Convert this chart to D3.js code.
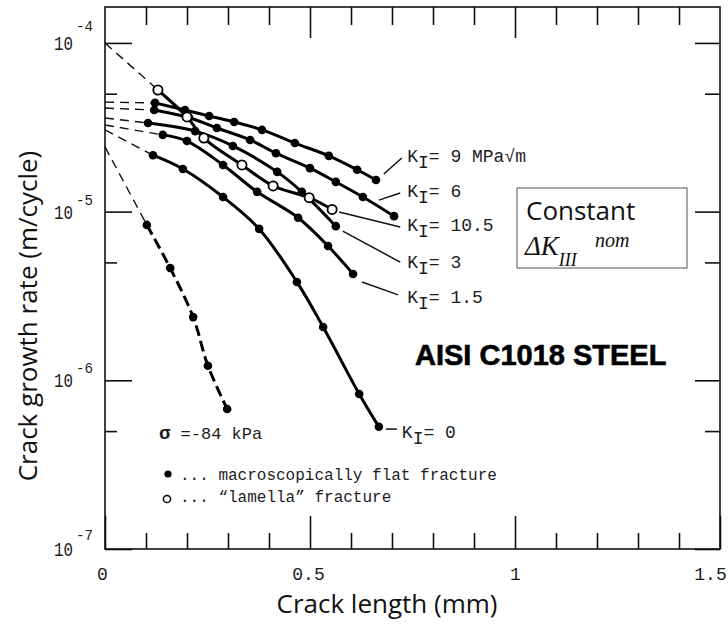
<!DOCTYPE html>
<html>
<head>
<meta charset="utf-8">
<script src="https://cdn.jsdelivr.net/npm/d3@7/dist/d3.min.js"></script>
<style>
  body { margin: 0; background: #fff; }
  .mono { font-family: "Liberation Mono", "DejaVu Sans Mono", monospace; fill: #1c1c1c; }
  .sans { font-family: "Open Sans", "Noto Sans", sans-serif; fill: #111; }
</style>
</head>
<body>
<svg width="728" height="624"></svg>
<script>
// values: crack length (mm) vs growth rate (m/cycle)
const k9Len   = [0.122, 0.195, 0.254, 0.315, 0.383, 0.463, 0.546, 0.615, 0.661];
const k9Rate  = [4.41e-5, 4.0e-5, 3.69e-5, 3.40e-5, 3.05e-5, 2.55e-5, 2.14e-5, 1.77e-5, 1.54e-5];
const k6Len   = [0.120, 0.205, 0.273, 0.354, 0.417, 0.500, 0.563, 0.629, 0.705];
const k6Rate  = [4.0e-5, 3.6e-5, 3.13e-5, 2.66e-5, 2.22e-5, 1.81e-5, 1.50e-5, 1.22e-5, 9.4e-6];
const k105Len  = [0.129, 0.200, 0.241, 0.334, 0.410, 0.498, 0.554];   // lamella (open circles)
const k105Rate = [5.26e-5, 3.64e-5, 2.73e-5, 1.89e-5, 1.42e-5, 1.21e-5, 1.03e-5];
const k3Len   = [0.105, 0.220, 0.312, 0.420, 0.480, 0.563];
const k3Rate  = [3.35e-5, 3.0e-5, 2.45e-5, 1.72e-5, 1.31e-5, 8.2e-6];
const k15Len  = [0.141, 0.200, 0.288, 0.371, 0.471, 0.544, 0.605];
const k15Rate = [2.85e-5, 2.62e-5, 1.89e-5, 1.31e-5, 9.2e-6, 6.25e-6, 4.27e-6];
const k0Len   = [0.117, 0.190, 0.288, 0.376, 0.468, 0.532, 0.620, 0.668];
const k0Rate  = [2.16e-5, 1.79e-5, 1.22e-5, 7.9e-6, 3.83e-6, 2.07e-6, 8.3e-7, 5.3e-7];
const sigLen  = [0.102, 0.159, 0.215, 0.251, 0.298];   // sigma = -84 kPa
const sigRate = [8.34e-6, 4.63e-6, 2.37e-6, 1.22e-6, 6.76e-7];

// dashed extrapolation back to zero crack length
const startRate = [4.46e-5, 4.11e-5, 1.0e-4, 3.59e-5, 3.26e-5, 3.05e-5, 2.42e-5];

const curveLabels = ["= 9 MPa√m", "= 6", "= 10.5", "= 3", "= 1.5", "= 0"];

const xMajor = [0, 0.5, 1, 1.5];
const xMinor = [0.1, 0.2, 0.3, 0.4, 0.6, 0.7, 0.8, 0.9, 1.1, 1.2, 1.3, 1.4];
const xTickLabels = ["0", "0.5", "1", "1.5"];
const yMajor = [1e-4, 1e-5, 1e-6, 1e-7];
const yMinor = [5e-5, 5e-6, 5e-7];
const yTickExp = ["-4", "-5", "-6", "-7"];

const svg = d3.select("svg");
const x = d3.scaleLinear().domain([0, 1.5]).range([105, 720]);
const y = d3.scaleLog().domain([1e-7, 1.633e-4]).range([549, 7]);

const zip = (a, b) => a.map((v, i) => [v, b[i]]);
const series = [
  {pts: zip(k9Len, k9Rate), open: false},
  {pts: zip(k6Len, k6Rate), open: false},
  {pts: zip(k105Len, k105Rate), open: true},
  {pts: zip(k3Len, k3Rate), open: false},
  {pts: zip(k15Len, k15Rate), open: false},
  {pts: zip(k0Len, k0Rate), open: false},
  {pts: zip(sigLen, sigRate), open: false, dashed: true}
];

// frame
svg.append("rect")
  .attr("x", x(0)).attr("y", y(y.domain()[1]))
  .attr("width", x(1.5) - x(0)).attr("height", y(1e-7) - y(y.domain()[1]))
  .attr("fill", "none").attr("stroke", "#111").attr("stroke-width", 1.6);

function axis(gen, tx, ty) {
  const g = svg.append("g").attr("transform", `translate(${tx},${ty})`).call(gen);
  g.select(".domain").remove();
  g.selectAll("line").attr("stroke", "#111").attr("stroke-width", 1.6);
  return g;
}

axis(d3.axisBottom(x).tickValues(xMinor).tickSizeInner(-16).tickSizeOuter(0).tickFormat(""), 0, 549);
const bx = axis(d3.axisBottom(x).tickValues(xMajor).tickSizeInner(-33).tickSizeOuter(0).tickPadding(18)
  .tickFormat((d, i) => xTickLabels[i]), 0, 549);
bx.selectAll("text").attr("class", "mono").attr("font-size", 18).attr("fill", "#1c1c1c")
  .attr("dx", (d, i) => [-3, -2, 0, -10][i]);

axis(d3.axisTop(x).tickValues(xMinor).tickSizeInner(-18).tickSizeOuter(0).tickFormat(""), 0, 7);
axis(d3.axisTop(x).tickValues([0.5, 1]).tickSizeInner(-31).tickSizeOuter(0).tickFormat(""), 0, 7);

axis(d3.axisLeft(y).tickValues(yMinor).tickSizeInner(-12).tickSizeOuter(0).tickFormat(""), 105, 0);
axis(d3.axisLeft(y).tickValues(yMajor).tickSizeInner(-27).tickSizeOuter(0).tickFormat(""), 105, 0);
axis(d3.axisRight(y).tickValues(yMinor).tickSizeInner(-15).tickSizeOuter(0).tickFormat(""), 720, 0);
axis(d3.axisRight(y).tickValues(yMajor).tickSizeInner(-25).tickSizeOuter(0).tickFormat(""), 720, 0);

// y tick labels 10^n (superscripts sit a little unevenly in the scan)
const supRise = [-19, -14, -14, -16];
const yl = svg.append("g").selectAll("text").data(yMajor).enter().append("text")
  .attr("class", "mono").attr("x", 54).attr("y", d => y(d) + 7).attr("font-size", 21);
yl.append("tspan").attr("textLength", 19).attr("lengthAdjust", "spacingAndGlyphs").text("10");
yl.append("tspan").attr("x", 76).attr("dy", (d, i) => supRise[i]).attr("font-size", 15)
  .attr("textLength", 17).attr("lengthAdjust", "spacingAndGlyphs").text((d, i) => yTickExp[i]);

// curves
const line = d3.line().x(d => x(d[0])).y(d => y(d[1])).curve(d3.curveCatmullRom.alpha(0.5));
const curves = svg.append("g");

series.forEach((s, i) => {
  curves.append("path")
    .attr("d", d3.line().x(d => x(d[0])).y(d => y(d[1]))([[0, startRate[i]], s.pts[0]]))
    .attr("fill", "none").attr("stroke", "#111").attr("stroke-width", 1.4)
    .attr("stroke-dasharray", "9,6");
  curves.append("path").attr("d", line(s.pts))
    .attr("fill", "none").attr("stroke", "#000").attr("stroke-width", 3)
    .attr("stroke-dasharray", s.dashed ? "11,5" : null);
});

series.forEach(s => {
  curves.selectAll(null).data(s.pts).enter().append("circle")
    .attr("cx", d => x(d[0])).attr("cy", d => y(d[1]))
    .attr("r", s.open ? 4.6 : 4.3)
    .attr("fill", s.open ? "#fff" : "#000")
    .attr("stroke", "#000").attr("stroke-width", s.open ? 1.8 : 0);
});

// leader lines and K_I labels
const leaders = [
  [[0.680, 1.67e-5], [0.724, 2.08e-5]],
  [[0.668, 1.17e-5], [0.720, 1.29e-5]],
  [[0.571, 9.96e-6], [0.720, 8.11e-6]],
  [[0.580, 7.67e-6], [0.720, 5.02e-6]],
  [[0.627, 3.83e-6], [0.715, 3.21e-6]],
  [[0.685, 5.14e-7], [0.712, 5.14e-7]]
];
const labelAt = [[0.737, 1.97e-5], [0.737, 1.22e-5], [0.737, 7.67e-6], [0.737, 4.63e-6], [0.737, 2.87e-6], [0.724, 4.55e-7]];

leaders.forEach(l => {
  svg.append("line")
    .attr("x1", x(l[0][0])).attr("y1", y(l[0][1]))
    .attr("x2", x(l[1][0])).attr("y2", y(l[1][1]))
    .attr("stroke", "#111").attr("stroke-width", 1.5);
});

curveLabels.forEach((t, i) => {
  const tx = svg.append("text").attr("class", "mono").attr("font-size", 18)
    .attr("x", x(labelAt[i][0])).attr("y", y(labelAt[i][1]));
  tx.append("tspan").text("K");
  tx.append("tspan").attr("dy", 6).text("I");
  tx.append("tspan").attr("dy", -6).text(t);
});

// legend and notes
svg.append("text").attr("class", "mono").attr("font-size", 17).attr("x", 159).attr("y", 439)
  .html('<tspan font-weight="bold" font-size="19">σ</tspan> =-84 kPa');
svg.append("circle").attr("cx", 168).attr("cy", 474).attr("r", 3.6).attr("fill", "#000");
svg.append("circle").attr("cx", 167).attr("cy", 499).attr("r", 3.6).attr("fill", "#fff")
  .attr("stroke", "#000").attr("stroke-width", 1.5);
svg.append("text").attr("class", "mono").attr("font-size", 16).attr("x", 180).attr("y", 480)
  .text("... macroscopically flat fracture");
svg.append("text").attr("class", "mono").attr("font-size", 16).attr("x", 180).attr("y", 502)
  .text("... \u201Clamella\u201D fracture");

svg.append("text").attr("x", 415).attr("y", 365)
  .attr("font-family", "'Liberation Sans', Arial, sans-serif").attr("font-weight", "bold")
  .attr("font-size", 29).attr("fill", "#000").attr("stroke", "#000").attr("stroke-width", 0.6)
  .text("AISI C1018 STEEL");

// annotation box
svg.append("rect").attr("x", 517).attr("y", 188).attr("width", 170).attr("height", 80)
  .attr("fill", "#fff").attr("stroke", "#555").attr("stroke-width", 1);
svg.append("text").attr("class", "sans").attr("x", 526).attr("y", 220).attr("font-size", 26).text("Constant");
const dk = svg.append("text").attr("x", 525).attr("y", 255)
  .attr("font-family", "'Liberation Serif', 'DejaVu Serif', serif").attr("font-style", "italic")
  .attr("font-size", 27).attr("fill", "#111");
dk.append("tspan").text("ΔK");
dk.append("tspan").attr("dy", 11).attr("font-size", 18).text("III");
dk.append("tspan").attr("x", 595).attr("y", 247).attr("font-size", 20).text("nom");

// axis titles
svg.append("text").attr("class", "sans").attr("font-size", 26).attr("text-anchor", "middle")
  .attr("x", 387).attr("y", 613).text("Crack length (mm)");
svg.append("text").attr("class", "sans").attr("font-size", 26).attr("text-anchor", "middle")
  .attr("transform", "translate(37,316) rotate(-90)").text("Crack growth rate (m/cycle)");
</script>
</body>
</html>
